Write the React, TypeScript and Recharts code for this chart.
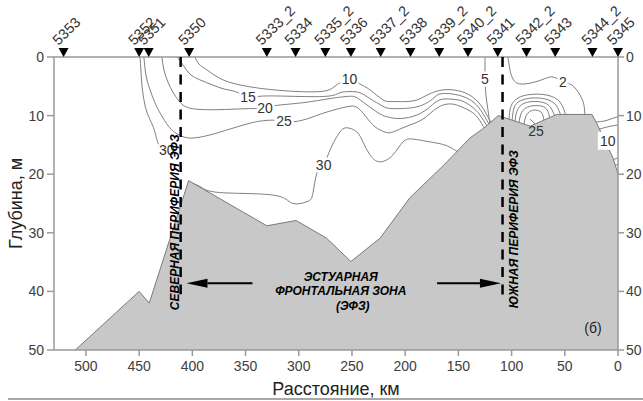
import {
  Area,
  ComposedChart,
  Line,
  ReferenceLine,
  Scatter,
  XAxis,
  YAxis,
} from "recharts";

const FONT = '"Liberation Sans", Arial, sans-serif';

// Section axes: distance along the section (km, decreasing to the right) and depth (m).
const X_TICKS = [0, 50, 100, 150, 200, 250, 300, 350, 400, 450, 500];
const Y_TICKS = [0, 10, 20, 30, 40, 50];

// Stations along the top edge.
const STATION_NAMES = [
  "5353", "5352", "5351", "5350", "5333_2", "5334", "5335_2", "5336", "5337_2",
  "5338", "5339_2", "5340_2", "5341", "5342_2", "5343", "5344_2", "5345",
];
const STATION_KM = [521, 450, 441, 403, 330, 303, 275, 251, 223, 195, 168, 141, 113, 86, 59, 24, 0];

// Bottom profile [km, depth].
const BOTTOM = [
  [510, 50], [450, 40], [440.5, 42], [403.5, 21.1], [330, 28.8], [302.5, 27.9],
  [274, 30.9], [251, 34.9], [223.5, 30.9], [195.5, 24], [164, 18.5], [139, 13.8],
  [126.5, 12.2], [112.5, 10], [82.5, 11.8], [57.5, 9.8], [24.5, 9.8], [20, 11.3],
  [4.5, 17.3], [0, 20],
];

// Salinity isolines [km, depth].
const ISO_10 = [
  [397.6, 0], [393.8, 1.2], [386.3, 2.2], [371.2, 3.9], [348.7, 5.0], [317.7, 5.7],
  [280.1, 5.9], [266.9, 5.1], [260.3, 4.3], [252.2, 3.8], [242.5, 4.6], [233.1, 5.6],
  [220.9, 7.3], [211.5, 7.6], [192.7, 7.5], [179.5, 6.5], [167.3, 5.7], [156, 5.6],
  [143.8, 6.1], [133.5, 7.3], [126, 9.0], [119.4, 11.2],
];
const ISO_15 = [
  [414.5, 0], [408.6, 1.4], [402.3, 2.9], [392.9, 3.9], [380.6, 4.8], [369.4, 5.5],
  [358.1, 6.0], [347.7, 6.9], [336.5, 6.7], [308.3, 6.7], [273.5, 6.7], [261.3, 6.1],
  [251.9, 5.9], [242.5, 6.1], [233.1, 7.1], [220.9, 8.4], [211.5, 8.8], [188.9, 8.5],
  [173.9, 7.1], [167.3, 6.3], [156, 6.3], [144.7, 6.8], [135.3, 7.8], [127.8, 9.4],
  [121.2, 11.5],
];
const ISO_20 = [
  [428.6, 0], [426.7, 2.2], [422.9, 4.3], [418.2, 6.0], [411.7, 7.7], [406, 8.5],
  [396.6, 8.9], [378.8, 9.0], [360.9, 8.9], [343, 8.8], [331.8, 8.75], [322.4, 8.3],
  [296.1, 7.8], [270.7, 7.1], [251.9, 6.7], [242.5, 7.3], [226.5, 9.4], [217.1, 10.2],
  [204.9, 10.5], [188.9, 9.9], [176.7, 8.5], [167.3, 7.3], [156, 7.2], [146.6, 7.5],
  [137.2, 8.5], [129.7, 9.9], [123.1, 11.8],
];
const ISO_25 = [
  [445.5, 0], [443.6, 3.1], [439.8, 5.6], [434.2, 8.2], [427.6, 10.4], [421.1, 12.1],
  [414.5, 13.1], [407, 13.7], [397.6, 13.8], [383.5, 13.3], [364.7, 12.3], [345.9, 11.3],
  [329, 10.8], [313.9, 10.9], [302.6, 11.0], [289.5, 10.4], [277.3, 9.6], [264.1, 8.9],
  [251.9, 8.4], [244.4, 8.7], [236.8, 10.2], [228.4, 11.9], [219, 12.8], [211.5, 12.8],
  [198.3, 11.8], [183.3, 10.6], [170.1, 8.7], [157.9, 8.0], [148.5, 8.4], [139.1, 9.2],
  [131.6, 10.4], [125, 12.4],
];
const ISO_30_NORTH = [
  [449.2, 0], [448.3, 2.2], [447.4, 4.8], [445.5, 7.3], [442.7, 9.4], [438, 11.4],
  [435.2, 12.8], [432.3, 14.7], [429.5, 15.6],
];
const ISO_30_MID = [
  [404, 21.3], [392.9, 22.1], [380.6, 23.0], [348.7, 23.3], [317.7, 23.8], [305.5, 25.0],
  [292.3, 24.7], [286.7, 23.3], [282.9, 19.8], [276.6, 18.4], [270.7, 15.9], [261.3, 12.8],
  [253.8, 12.1], [245.3, 12.8], [239.7, 14.5], [233.1, 16.7], [223.7, 17.9], [211.5, 16.7],
  [202.1, 14.5], [192.7, 14.0], [179.5, 14.4], [167.3, 14.8], [157.9, 15.4], [147, 16.6],
];
const ISO_5 = [[125, 0], [125, 2.2], [125, 3.8], [124.1, 6.5], [122.2, 9.0], [120.3, 11.6]];
const ISO_2 = [
  [103.4, 0], [101.5, 2.2], [99.6, 3.4], [92.1, 4.6], [73.3, 4.0], [61.1, 3.4],
  [51.7, 4.3], [43.2, 4.8], [35.7, 6.5], [32, 8.2], [31, 10.3],
];
// Nested isolines over the southern shoal (5 to 25).
const SHOAL_1 = [[102.4, 10.8], [100.6, 8.4], [94, 7.0], [82.7, 6.4], [66.7, 6.5], [54.5, 7.7], [48.9, 10.1]];
const SHOAL_2 = [[99.6, 11], [97.7, 8.7], [92.1, 7.5], [80.8, 7.0], [67.7, 7.2], [58.3, 8.2], [53.6, 10.1]];
const SHOAL_3 = [[96.8, 11.1], [94.9, 9.2], [89.3, 8.0], [79.9, 7.6], [69.5, 7.8], [63, 8.7], [59.2, 10.2]];
const SHOAL_4 = [[93, 11.2], [91.2, 9.7], [86.5, 8.7], [78.9, 8.3], [71.4, 8.4], [66.7, 9.0], [63.9, 10.5]];
const SHOAL_25 = [[88.3, 11.5], [86.5, 10.1], [81.8, 9.2], [76.1, 9.1], [71.4, 9.6], [69.5, 10.9]];
const SHOAL_LEADER = [[82.7, 10.6], [78, 11.4]];
// Isolines hugging the southern end of the section.
const EDGE_1 = [[21, 11.1], [12.2, 10.9], [5.6, 10.5], [0, 10.2]];
const EDGE_2 = [[19, 12.4], [9.4, 11.9], [0, 11.6]];
const EDGE_3 = [[5.6, 17.6], [0, 17.2]];
const EDGE_4 = [[3.8, 18.6], [0, 18.3]];

const ISOLINES = [
  ISO_10, ISO_15, ISO_20, ISO_25, ISO_30_NORTH, ISO_30_MID, ISO_5, ISO_2,
  SHOAL_1, SHOAL_2, SHOAL_3, SHOAL_4, SHOAL_25, EDGE_1, EDGE_2, EDGE_3, EDGE_4,
];

// Isoline values and where they are written.
const LABEL_TEXT = ["10", "15", "20", "25", "30", "30", "5", "2"];
const LABEL_KM = [252.2, 347.7, 331.8, 313.9, 276.6, 424, 125, 51.7];
const LABEL_DEPTH = [3.8, 6.9, 8.75, 10.9, 18.4, 15.9, 3.8, 4.3];

// Front boundaries and annotations.
const NORTH_EDGE_KM = 411;
const SOUTH_EDGE_KM = 108.5;

type Pt = { km: number; d: number };
const pts = (rows: number[][]): Pt[] => rows.map(([km, d]) => ({ km, d }));

const stations = STATION_NAMES.map((station, i) => ({ km: STATION_KM[i], d: 0, station }));
const isoLabels = LABEL_TEXT.map((text, i) => ({ km: LABEL_KM[i], d: LABEL_DEPTH[i], text }));

function StationMark(props: any) {
  const { cx, cy, payload } = props;
  return (
    <g>
      <polygon points={`${cx - 5},${cy - 9} ${cx + 5},${cy - 9} ${cx},${cy}`} fill="#000" />
      <g transform={`translate(${cx - 5} ${cy - 11}) rotate(-45)`}>
        <text x={0} y={0} fontSize={14.5} fill="#333">
          {payload.station}
        </text>
      </g>
    </g>
  );
}

function IsoLabel(props: any) {
  const { cx, cy, payload } = props;
  return (
    <text
      x={cx}
      y={cy}
      textAnchor="middle"
      dominantBaseline="central"
      fontSize={14}
      fill="#333"
      stroke="#fff"
      strokeWidth={5}
      paintOrder="stroke"
    >
      {payload.text}
    </text>
  );
}

function PlainLabel(props: any) {
  const { cx, cy, payload } = props;
  return (
    <text x={cx} y={cy} textAnchor="middle" dominantBaseline="central" fontSize={14} fill="#333">
      {payload.text}
    </text>
  );
}

function BoxLabel(props: any) {
  const { cx, cy, payload } = props;
  return (
    <g>
      <rect x={cx - 10} y={cy - 9} width={20} height={18} fill="#fff" />
      <text x={cx} y={cy} textAnchor="middle" dominantBaseline="central" fontSize={14} fill="#333">
        {payload.text}
      </text>
    </g>
  );
}

function SideNote(props: any) {
  const { cx, cy, payload } = props;
  return (
    <g transform={`translate(${cx} ${cy}) rotate(-90)`}>
      <text
        x={0}
        y={0}
        textAnchor="middle"
        dominantBaseline="central"
        fontSize={12}
        fontWeight="bold"
        fontStyle="italic"
        fill="#000"
      >
        {payload.text}
      </text>
    </g>
  );
}

function ZoneNote(props: any) {
  const { cx, cy, payload } = props;
  const lines: string[] = payload.lines;
  return (
    <text textAnchor="middle" fontSize={12} fontWeight="bold" fontStyle="italic" fill="#000">
      {lines.map((s, i) => (
        <tspan key={i} x={cx + (i === 2 ? 12 : 0)} y={cy + (i - 1) * 14.3 + 4}>
          {s}
        </tspan>
      ))}
    </text>
  );
}

function PanelNote(props: any) {
  const { cx, cy, payload } = props;
  return (
    <text x={cx} y={cy} textAnchor="middle" dominantBaseline="central" fontSize={14} fill="#222">
      {payload.text}
    </text>
  );
}

function Arrow(props: any) {
  const { x1, y1, x2, y2 } = props;
  const dir = Math.sign(x2 - x1) || 1;
  const len = 21;
  const half = 4.5;
  const bx = x2 - dir * len;
  return (
    <g>
      <line x1={x1} y1={y1} x2={bx} y2={y2} stroke="#000" strokeWidth={2} />
      <polygon points={`${x2},${y2} ${bx},${y2 - half} ${bx},${y2 + half}`} fill="#000" />
    </g>
  );
}

export default function App() {
  return (
    <div
      style={{
        position: "absolute",
        left: 0,
        top: 0,
        width: 643,
        height: 401,
        background: "#fff",
        fontFamily: FONT,
      }}
    >
      <ComposedChart width={643} height={401} margin={{ top: 57, right: 0, bottom: 0, left: 0 }}>
        <XAxis
          dataKey="km"
          type="number"
          domain={[0, 530]}
          reversed
          ticks={X_TICKS}
          height={51}
          stroke="#999"
          strokeWidth={1.5}
          tickSize={6}
          tickMargin={5}
          tick={{ fill: "#404040", fontSize: 14 }}
          label={{ value: "Расстояние, км", position: "insideBottom", offset: 6, fill: "#222", fontSize: 18 }}
        />
        <YAxis
          dataKey="d"
          type="number"
          domain={[0, 50]}
          reversed
          ticks={Y_TICKS}
          width={54}
          stroke="#999"
          strokeWidth={1.5}
          tickSize={7}
          tickMargin={3}
          tick={{ fill: "#404040", fontSize: 14 }}
          label={{
            value: "Глубина, м",
            angle: -90,
            position: "insideLeft",
            offset: 16,
            fill: "#222",
            fontSize: 18,
            style: { textAnchor: "middle" },
          }}
        />
        <YAxis
          yAxisId="r"
          dataKey="d"
          orientation="right"
          type="number"
          domain={[0, 50]}
          reversed
          ticks={Y_TICKS}
          width={25}
          stroke="#999"
          strokeWidth={1.5}
          tickSize={6}
          tickMargin={2}
          tick={{ fill: "#404040", fontSize: 14 }}
        />

        {ISOLINES.map((rows, i) => (
          <Line
            key={i}
            data={pts(rows)}
            dataKey="d"
            type="natural"
            stroke="#808080"
            strokeWidth={1}
            dot={false}
            activeDot={false}
            legendType="none"
            isAnimationActive={false}
            zIndex={100}
          />
        ))}

        {/* the bottom is tied to the right-hand depth axis, same 0..50 scale */}
        <Area
          yAxisId="r"
          data={pts(BOTTOM)}
          dataKey="d"
          type="linear"
          baseValue={50}
          fill="#c8c8c8"
          fillOpacity={1}
          stroke="#7a7a7a"
          strokeWidth={1}
          dot={false}
          activeDot={false}
          isAnimationActive={false}
          zIndex={200}
        />

        <Line
          data={pts(SHOAL_LEADER)}
          dataKey="d"
          type="linear"
          stroke="#808080"
          strokeWidth={1}
          dot={false}
          activeDot={false}
          isAnimationActive={false}
          zIndex={300}
        />

        <ReferenceLine y={0} stroke="#999" strokeWidth={1.5} zIndex={300} />
        <ReferenceLine
          segment={[{ x: NORTH_EDGE_KM, y: 0 }, { x: NORTH_EDGE_KM, y: 40.5 }]}
          stroke="#000"
          strokeWidth={2.5}
          strokeDasharray="10 7.5"
          zIndex={300}
        />
        <ReferenceLine
          segment={[{ x: SOUTH_EDGE_KM, y: 0 }, { x: SOUTH_EDGE_KM, y: 40.8 }]}
          stroke="#000"
          strokeWidth={2.5}
          strokeDasharray="10 7.5"
          zIndex={300}
        />
        <ReferenceLine segment={[{ x: 343.5, y: 38.6 }, { x: 405.5, y: 38.6 }]} shape={Arrow} zIndex={300} />
        <ReferenceLine segment={[{ x: 170, y: 38.6 }, { x: 110, y: 38.6 }]} shape={Arrow} zIndex={300} />

        <Scatter data={isoLabels} shape={IsoLabel} isAnimationActive={false} zIndex={400} />
        <Scatter data={[{ km: 77, d: 12.7, text: "25" }]} shape={PlainLabel} isAnimationActive={false} zIndex={400} />
        <Scatter data={[{ km: 9.6, d: 14.3, text: "10" }]} shape={BoxLabel} isAnimationActive={false} zIndex={400} />
        <Scatter
          data={[
            { km: 416, d: 28.2, text: "СЕВЕРНАЯ ПЕРИФЕРИЯ ЭФЗ" },
            { km: 97.5, d: 29.4, text: "ЮЖНАЯ ПЕРИФЕРИЯ ЭФЗ" },
          ]}
          shape={SideNote}
          isAnimationActive={false}
          zIndex={400}
        />
        <Scatter
          data={[{ km: 260.5, d: 40, lines: ["ЭСТУАРНАЯ", "ФРОНТАЛЬНАЯ ЗОНА", "(ЭФЗ)"] }]}
          shape={ZoneNote}
          isAnimationActive={false}
          zIndex={400}
        />
        <Scatter data={[{ km: 23.5, d: 46.2, text: "(б)" }]} shape={PanelNote} isAnimationActive={false} zIndex={400} />
        <Scatter data={stations} shape={StationMark} isAnimationActive={false} zIndex={500} />
      </ComposedChart>
      <div style={{ position: "absolute", left: 8, right: 0, top: 398, height: 2, background: "#a8a8a8" }} />
    </div>
  );
}
